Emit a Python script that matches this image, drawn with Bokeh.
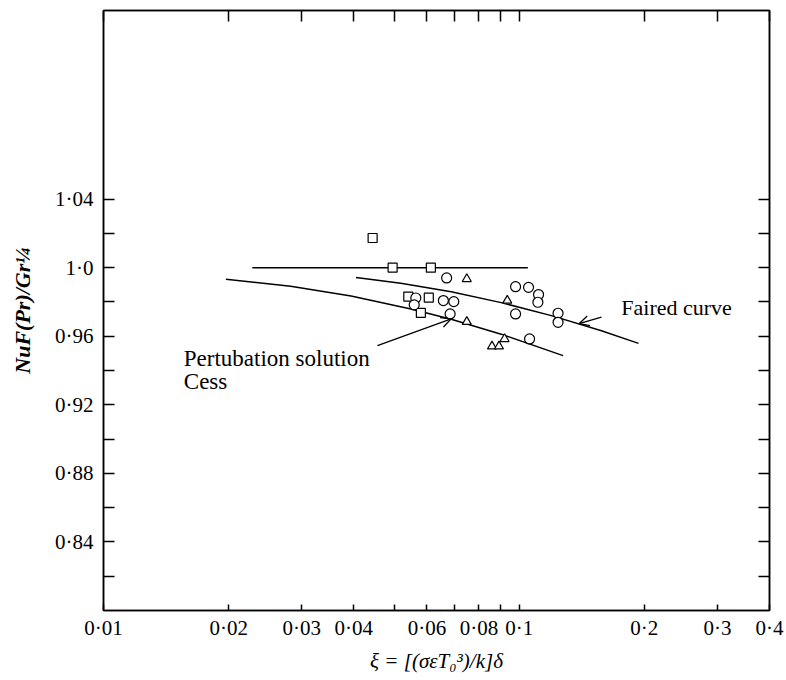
from bokeh.plotting import figure
from bokeh.models import (Range1d, FixedTicker, LogAxis, LinearAxis, Label, Arrow,
                          OpenHead, CustomJSTickFormatter)
from bokeh.embed import file_html
from bokeh.resources import INLINE

# ---- data ----
x_ticks = [0.01, 0.02, 0.03, 0.04, 0.05, 0.06, 0.07, 0.08, 0.09, 0.1, 0.2, 0.3, 0.4]
x_tick_labels = ["0·01", "0·02", "0·03", "0·04", "", "0·06", "", "0·08", "", "0·1", "0·2", "0·3", "0·4"]
y_ticks = [0.82, 0.84, 0.86, 0.88, 0.9, 0.92, 0.94, 0.96, 0.98, 1.0, 1.02, 1.04]
y_tick_labels = ["", "0·84", "", "0·88", "", "0·92", "", "0·96", "", "1·0", "", "1·04"]

sq_x = [0.0444, 0.0496, 0.0613, 0.0541, 0.0606, 0.0580]
sq_y = [1.0173, 1.0, 1.0, 0.9831, 0.9825, 0.9736]

ci_x = [0.0669, 0.0564, 0.0559, 0.0657, 0.0696, 0.0682, 0.0980, 0.1053, 0.1113,
        0.1109, 0.0980, 0.1240, 0.1240, 0.1059]
ci_y = [0.9940, 0.9823, 0.9783, 0.9808, 0.9802, 0.9730, 0.9889, 0.9885, 0.9843,
        0.9798, 0.9730, 0.9734, 0.9681, 0.9584]

tr_x = [0.0748, 0.0936, 0.0748, 0.0922, 0.0860, 0.0894]
tr_y = [0.9934, 0.9808, 0.9684, 0.9584, 0.9541, 0.9541]

flat_x = [0.0228, 0.1049]
flat_y = [1.0, 1.0]

faired_x = [0.0405, 0.0519, 0.0686, 0.0905, 0.1195, 0.1577, 0.1936]
faired_y = [0.9943, 0.9909, 0.9859, 0.9796, 0.9720, 0.9632, 0.9558]

cess_x = [0.0197, 0.0282, 0.0394, 0.0549, 0.0686, 0.0905, 0.1275]
cess_y = [0.9932, 0.9891, 0.9834, 0.9759, 0.9699, 0.9612, 0.9487]

FONT = "Liberation Serif"

p = figure(width=784, height=678, x_axis_type="log",
           x_range=Range1d(0.01, 0.4), y_range=Range1d(0.80, 1.15),
           output_backend="svg", toolbar_location=None,
           min_border_left=103, min_border_right=15, min_border_top=10, min_border_bottom=68)
p.grid.visible = False
p.outline_line_color = "black"
p.outline_line_width = 1.5
p.background_fill_color = "white"
p.border_fill_color = "white"

def lab_formatter(ticks, labels):
    return CustomJSTickFormatter(args=dict(t=ticks, l=labels), code="""
        for (let i = 0; i < t.length; i++) {
            if (Math.abs(t[i] - tick) < 1e-9) { return l[i]; }
        }
        return "";
    """)

blank = CustomJSTickFormatter(code="return '';")

# bottom axis
xa = p.xaxis[0]
xa.ticker = FixedTicker(ticks=x_ticks)
xa.formatter = lab_formatter(x_ticks, x_tick_labels)
xa.major_tick_in = 6
xa.major_tick_out = 0
xa.minor_tick_line_color = None
xa.major_tick_line_width = 1.5
xa.axis_line_width = 1.5
xa.major_label_text_font = FONT
xa.major_label_text_font_size = "21px"
xa.major_label_text_color = "black"
xa.major_label_standoff = 5
xa.axis_label = "ξ = [(σεT₀³)/k]δ"
xa.axis_label_text_font = FONT
xa.axis_label_text_font_style = "italic"
xa.axis_label_text_font_size = "21px"
xa.axis_label_text_color = "black"
xa.axis_label_standoff = 6

# left axis
ya = p.yaxis[0]
ya.ticker = FixedTicker(ticks=y_ticks)
ya.formatter = lab_formatter(y_ticks, y_tick_labels)
ya.major_tick_in = 11
ya.major_tick_out = 0
ya.minor_tick_line_color = None
ya.major_tick_line_width = 1.5
ya.axis_line_width = 1.5
ya.major_label_text_font = FONT
ya.major_label_text_font_size = "21px"
ya.major_label_text_color = "black"
ya.major_label_standoff = 10
ya.axis_label = "NuF(Pr)/Gr¼"
ya.axis_label_text_font = FONT
ya.axis_label_text_font_style = "bold italic"
ya.axis_label_text_font_size = "22px"
ya.axis_label_text_color = "black"
ya.axis_label_standoff = 17

# mirrored axes
top = LogAxis(ticker=FixedTicker(ticks=x_ticks), formatter=blank,
              major_tick_in=11, major_tick_out=0, minor_tick_line_color=None,
              major_tick_line_width=1.5, axis_line_width=1.5, major_label_standoff=0)
p.add_layout(top, "above")
right = LinearAxis(ticker=FixedTicker(ticks=y_ticks), formatter=blank,
                   major_tick_in=11, major_tick_out=0, minor_tick_line_color=None,
                   major_tick_line_width=1.5, axis_line_width=1.5, major_label_standoff=0)
p.add_layout(right, "right")

# curves
p.line(flat_x, flat_y, line_color="black", line_width=1.5)
p.line(faired_x, faired_y, line_color="black", line_width=1.5)
p.line(cess_x, cess_y, line_color="black", line_width=1.5)

# markers
p.scatter(sq_x, sq_y, marker="square", size=9, fill_color="white", line_color="black", line_width=1.2)
p.scatter(ci_x, ci_y, marker="circle", size=10, fill_color="white", line_color="black", line_width=1.2)
p.scatter(tr_x, tr_y, marker="triangle", size=9, fill_color="white", line_color="black", line_width=1.2)

# annotations
p.add_layout(Label(x=0.176, y=0.9767, text="Faired curve", text_font=FONT,
                   text_font_size="22px", text_baseline="middle", text_color="black"))
p.add_layout(Arrow(end=OpenHead(size=10, line_width=1.3, line_color="black"),
                   x_start=0.1577, y_start=0.9712, x_end=0.1393, y_end=0.9673,
                   line_width=1.3, line_color="black"))

p.add_layout(Label(x=0.0156, y=0.9468, text="Pertubation solution", text_font=FONT,
                   text_font_size="23px", text_baseline="alphabetic", text_color="black"))
p.add_layout(Label(x=0.0156, y=0.9335, text="Cess", text_font=FONT,
                   text_font_size="23px", text_baseline="alphabetic", text_color="black"))
p.add_layout(Arrow(end=OpenHead(size=10, line_width=1.3, line_color="black"),
                   x_start=0.0456, y_start=0.9545, x_end=0.0686, y_end=0.9701,
                   line_width=1.3, line_color="black"))

open("out.html", "w").write(file_html(p, INLINE))
